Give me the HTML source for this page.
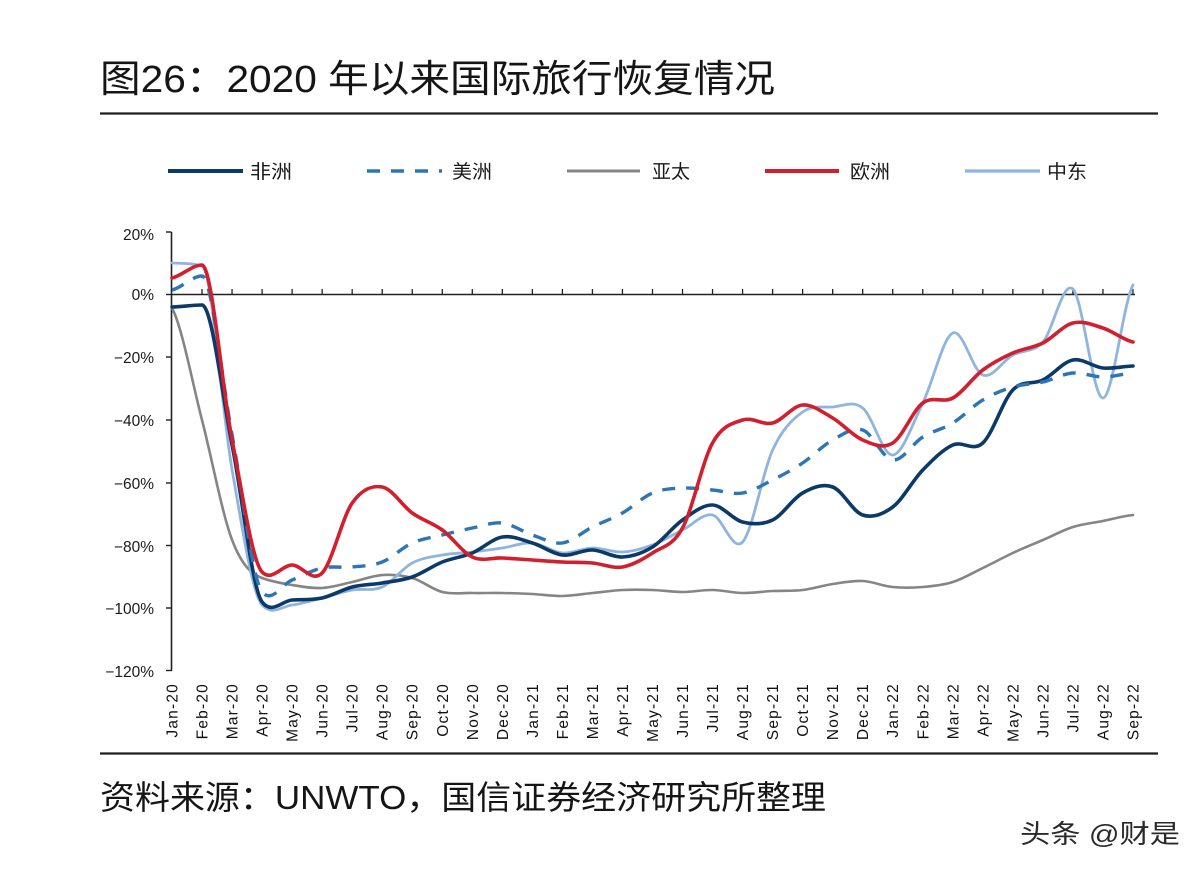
<!DOCTYPE html>
<html>
<head>
<meta charset="utf-8">
<style>
  html,body{margin:0;padding:0;background:#fff;}
  body{width:1204px;height:872px;overflow:hidden;}
  svg{display:block;}
  .cjk{font-family:"Liberation Sans","Noto Sans CJK SC",sans-serif;}
  .lat{font-family:"Liberation Sans",sans-serif;}
</style>
</head>
<body>
<svg id="chart" width="1204" height="872" viewBox="0 0 1204 872" xmlns="http://www.w3.org/2000/svg">
  <rect x="0" y="0" width="1204" height="872" fill="#ffffff"/>
  <!-- Title -->
  <text class="cjk" x="100" y="92" font-size="38" fill="#151515" textLength="675" lengthAdjust="spacingAndGlyphs">图26：2020 年以来国际旅行恢复情况</text>
  <line x1="100" y1="113.5" x2="1158" y2="113.5" stroke="#1e1e1e" stroke-width="2.2"/>

  <!-- Legend -->
  <line x1="168" y1="171" x2="243" y2="171" stroke="#0c3a68" stroke-width="4"/>
  <text class="cjk" x="250" y="178" font-size="19" fill="#1a1a1a" textLength="42" lengthAdjust="spacingAndGlyphs">非洲</text>
  <line x1="367" y1="171" x2="442" y2="171" stroke="#2e75b6" stroke-width="3.5" stroke-dasharray="13,11"/>
  <text class="cjk" x="452" y="178" font-size="19" fill="#1a1a1a" textLength="40" lengthAdjust="spacingAndGlyphs">美洲</text>
  <line x1="567" y1="171" x2="640" y2="171" stroke="#858585" stroke-width="3"/>
  <text class="cjk" x="652" y="178" font-size="19" fill="#1a1a1a" textLength="38" lengthAdjust="spacingAndGlyphs">亚太</text>
  <line x1="765" y1="171" x2="839" y2="171" stroke="#d21f2e" stroke-width="4"/>
  <text class="cjk" x="850" y="178" font-size="19" fill="#1a1a1a" textLength="40" lengthAdjust="spacingAndGlyphs">欧洲</text>
  <line x1="965" y1="171" x2="1040" y2="171" stroke="#8fb5de" stroke-width="3.2"/>
  <text class="cjk" x="1047" y="178" font-size="19" fill="#1a1a1a" textLength="40" lengthAdjust="spacingAndGlyphs">中东</text>

  <!-- Y axis -->
  <line x1="171.5" y1="232" x2="171.5" y2="671" stroke="#222" stroke-width="1.6"/>
  <g stroke="#222" stroke-width="1.4">
    <line x1="166" y1="232" x2="171.5" y2="232"/>
    <line x1="166" y1="294.5" x2="171.5" y2="294.5"/>
    <line x1="166" y1="357" x2="171.5" y2="357"/>
    <line x1="166" y1="420" x2="171.5" y2="420"/>
    <line x1="166" y1="483" x2="171.5" y2="483"/>
    <line x1="166" y1="545.5" x2="171.5" y2="545.5"/>
    <line x1="166" y1="608" x2="171.5" y2="608"/>
    <line x1="166" y1="670.5" x2="171.5" y2="670.5"/>
  </g>
  <g class="lat" font-size="15.5" fill="#1a1a1a" text-anchor="end">
    <text x="154" y="240">20%</text>
    <text x="154" y="300">0%</text>
    <text x="154" y="363">−20%</text>
    <text x="154" y="426">−40%</text>
    <text x="154" y="489">−60%</text>
    <text x="154" y="552">−80%</text>
    <text x="154" y="614">−100%</text>
    <text x="154" y="677">−120%</text>
  </g>

  <!-- zero line -->
  <line x1="171.5" y1="294.5" x2="1135" y2="294.5" stroke="#222" stroke-width="1.5"/>
  <g id="ticks" stroke="#222" stroke-width="1.3"></g>
  <g id="xlabels" class="lat" font-size="15.5" fill="#111" letter-spacing="1.2"></g>

  <g id="series" fill="none" stroke-linecap="round" stroke-linejoin="round"></g>

  <!-- bottom separator -->
  <line x1="100" y1="753.5" x2="1158" y2="753.5" stroke="#1e1e1e" stroke-width="2.2"/>
  <text class="cjk" x="100" y="809" font-size="33" fill="#151515" textLength="726" lengthAdjust="spacingAndGlyphs">资料来源：UNWTO，国信证券经济研究所整理</text>
  <text class="cjk" x="1020" y="843" font-size="26" fill="#2a2a2a" textLength="160" lengthAdjust="spacingAndGlyphs">头条 @财是</text>
</svg>
<script>
(function(){
  var NS="http://www.w3.org/2000/svg";
  var X=function(i){return 172+i*30.03;};
  var months=["Jan","Feb","Mar","Apr","May","Jun","Jul","Aug","Sep","Oct","Nov","Dec"];
  var ticks=document.getElementById("ticks");
  var xl=document.getElementById("xlabels");
  for(var i=0;i<33;i++){
    var x=X(i);
    if(i>0){
      var t=document.createElementNS(NS,"line");
      t.setAttribute("x1",x);t.setAttribute("x2",x);
      t.setAttribute("y1",289);t.setAttribute("y2",294.5);
      ticks.appendChild(t);
    }
    var yr=20+Math.floor(i/12);
    var lab=months[i%12]+"-"+yr;
    var tx=document.createElementNS(NS,"text");
    tx.setAttribute("transform","translate("+(x+5.5)+",683) rotate(-90)");
    tx.setAttribute("text-anchor","end");
    tx.textContent=lab;
    xl.appendChild(tx);
  }
  function pathD(ys){
    var n=ys.length, h=30.03;
    var xs=ys.map(function(_,i){return X(i);});
    var dl=[],m=[];
    for(var i=0;i<n-1;i++) dl.push((ys[i+1]-ys[i])/h);
    m[0]=dl[0]/2; m[n-1]=dl[n-2]/2;
    for(var i=1;i<n-1;i++) m[i]=(ys[i+1]-ys[i-1])/(2*h);
    (function(i){
      if(dl[i-1]*dl[i]<=0){m[i]=0;return;}
      var lim=Math.min(3*Math.abs(dl[i-1]),3*Math.abs(dl[i]));
      if(Math.abs(m[i])>lim) m[i]=Math.sign(m[i])*lim;
    })(1);
    m[3]=m[3]*0.5;
    if(dl[0]*m[0]<0) m[0]=0;
    var d="M"+xs[0].toFixed(1)+","+ys[0].toFixed(1);
    for(var i=0;i<n-1;i++){
      var c1x=xs[i]+h/3, c1y=ys[i]+m[i]*h/3;
      var c2x=xs[i+1]-h/3, c2y=ys[i+1]-m[i+1]*h/3;
      d+=" C"+c1x.toFixed(1)+","+c1y.toFixed(1)+" "+c2x.toFixed(1)+","+c2y.toFixed(1)+" "+xs[i+1].toFixed(1)+","+ys[i+1].toFixed(1);
    }
    return d;
  }
  var series=[
    {c:"#858585",w:2.6,d:null,ys:[308,420,540,578,585,588,582,575,578,592,593,593,594,596,593,590,590,592,590,593,591,590,584,581,587,587,582,568,553,540,527,521,515]},
    {c:"#8fb5de",w:2.8,d:null,ys:[263,266,470,605,605,598,590,587,563,555,552,548,543,553,548,552,545,530,515,542,450,412,407,408,455,403,333,375,355,342,289,398,285]},
    {c:"#0c3a68",w:3.6,d:null,ys:[307,305,445,602,600,598,587,583,577,562,553,537,543,555,550,557,547,520,505,522,520,493,487,515,507,470,445,443,390,380,360,368,366]},
    {c:"#2e75b6",w:3.4,d:"13,11",ys:[290,276,435,592,580,568,567,562,543,535,528,523,535,543,527,513,493,488,490,493,480,463,440,430,460,437,423,400,387,382,373,377,373]},
    {c:"#d21f2e",w:3.6,d:null,ys:[278,265,440,572,565,573,503,487,513,530,557,558,560,562,563,567,553,528,443,420,423,405,418,440,443,403,398,370,353,343,323,328,342]}
  ];
  var g=document.getElementById("series");
  series.forEach(function(s){
    var pth=document.createElementNS(NS,"path");
    pth.setAttribute("d",pathD(s.ys));
    pth.setAttribute("stroke",s.c);
    pth.setAttribute("stroke-width",s.w);
    if(s.d){pth.setAttribute("stroke-dasharray",s.d);pth.setAttribute("stroke-linecap","butt");}
    g.appendChild(pth);
  });
})();
</script>
</body>
</html>
